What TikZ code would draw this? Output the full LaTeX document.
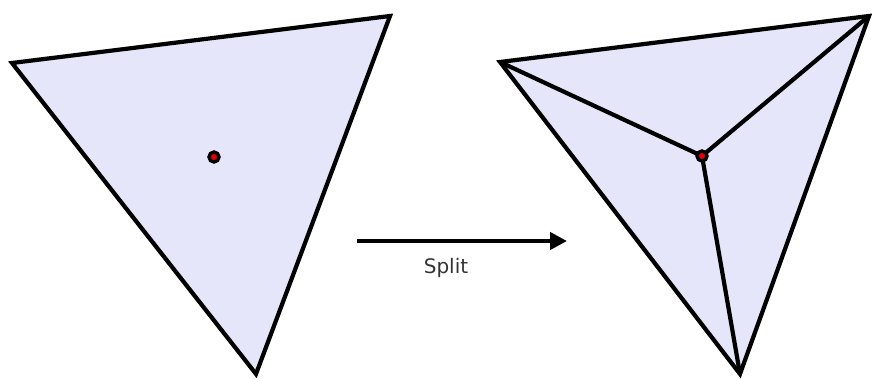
\documentclass[tikz,border=0pt]{standalone}
\usepackage{fontspec}
\setmainfont{DejaVu Sans}
\usepackage{tikz}
\usetikzlibrary{arrows.meta, positioning}
\definecolor{facefill}{RGB}{230, 230, 250}
\definecolor{dotred}{RGB}{230, 0, 0}

\begin{document}
\begin{tikzpicture}[x=1pt, y=-1pt,
		tri/.style={draw=black, line width=4.2pt, line join=miter, fill=facefill},
		edge/.style={draw=black, line width=4.2pt},
		dot/.style={circle, draw=black, line width=3.4pt, fill=dotred, inner sep=0pt, minimum size=10pt},
		lbl/.style={font=\fontsize{20}{24}\selectfont, text=black!80}
	]
	\useasboundingbox (0,0) rectangle (872,379);
	% before
	\coordinate (a1) at (12,63);
	\coordinate (a2) at (390,16);
	\coordinate (a3) at (256,374);
	\path[tri] (a1) -- (a2) -- (a3) -- cycle;
	\node[dot] (p1) at (214,157) {};
	% after
	\coordinate (b1) at (500,62);
	\coordinate (b2) at (869,16);
	\coordinate (b3) at (740,374);
	\path[tri] (b1) -- (b2) -- (b3) -- cycle;
	\coordinate (c) at (702,156);
	\draw[edge] (c) -- (b1);
	\draw[edge] (c) -- (b2);
	\draw[edge] (c) -- (b3);
	\node[dot] (p2) at (c) {};
	% step
	\coordinate (s1) at (357,241);
	\coordinate (s2) at (567,241);
	\draw[line width=4.2pt, -{Triangle[length=17pt, width=17pt]}] (s1) -- (s2);
	\node[lbl] (split) at (446,268) {Split};
\end{tikzpicture}
\end{document}
